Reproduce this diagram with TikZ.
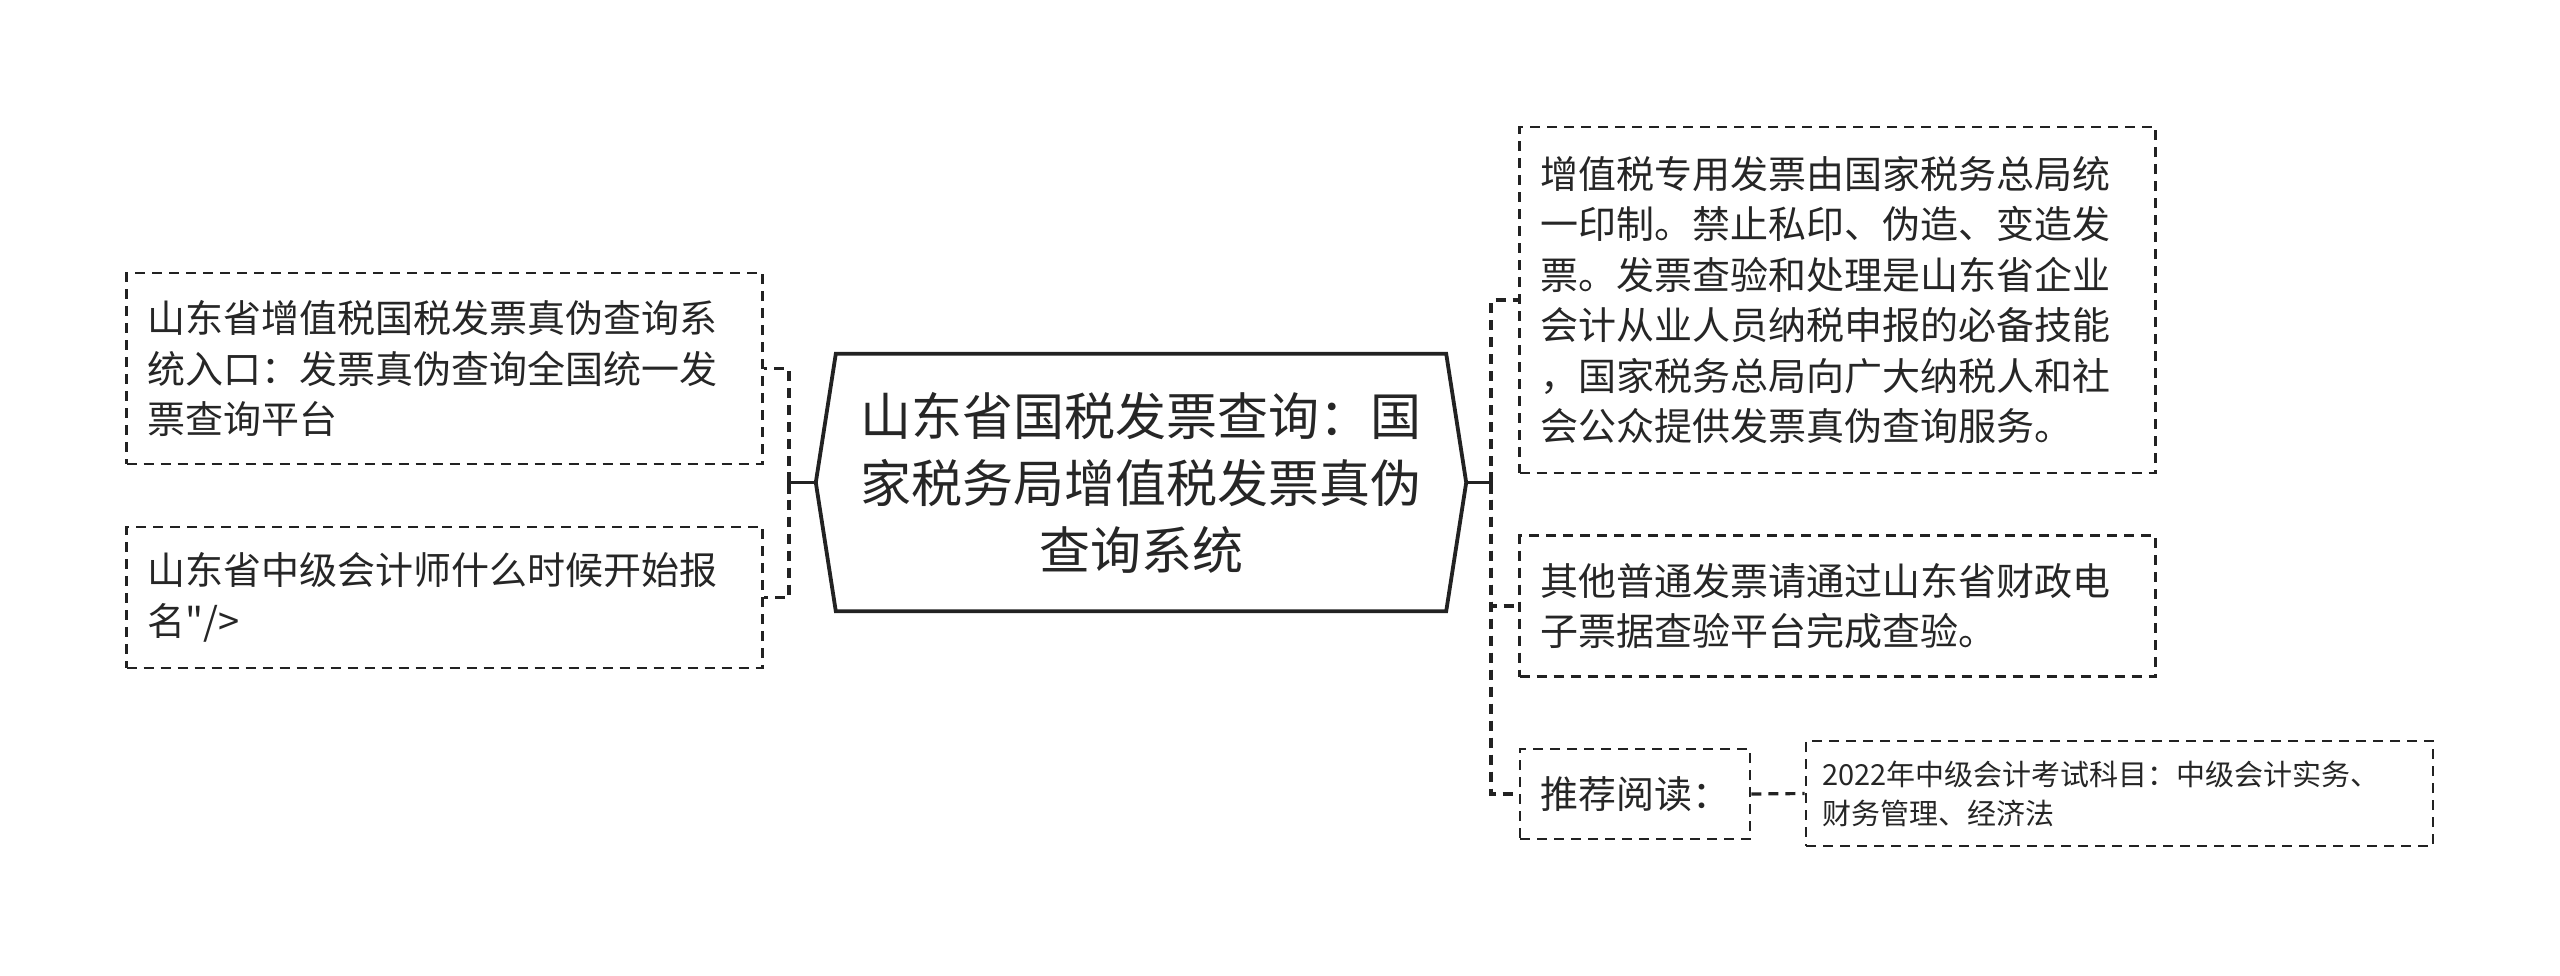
\documentclass[tikz,border=0pt]{standalone}
\usepackage{fontspec}
\newfontfamily\cjkf{Noto Sans CJK SC}
\definecolor{linec}{HTML}{222222}
\definecolor{textc}{HTML}{262626}
\begin{document}
\begin{tikzpicture}[x=1pt,y=-1pt,
  leaf/.style={draw=linec, line width=2.8pt, dash pattern=on 10pt off 7pt, align=left,
    inner xsep=21pt, inner ysep=0pt, text=textc, font=\cjkf\fontsize{38}{50.5}\selectfont},
  small/.style={font=\cjkf\fontsize{29}{39}\selectfont, inner xsep=16pt},
  rootbox/.style={inner sep=0pt, align=center, text=textc, font=\cjkf\fontsize{51}{67}\selectfont,
    minimum width=650pt, minimum height=257pt},
  hexline/.style={draw=linec, line width=3.8pt, line join=miter},
  solidcon/.style={draw=linec, line width=3.4pt},
  dashcon/.style={draw=linec, line width=3.2pt, dash pattern=on 10pt off 7pt}
]
\useasboundingbox (0,0) rectangle (2560,975);

% root
\node[rootbox] (root) at (1141,482.5) {山东省国税发票查询：国\\家税务局增值税发票真伪\\查询系统};
\draw[hexline] (root.west) -- ([xshift=20pt]root.north west) -- ([xshift=-20pt]root.north east)
  -- (root.east) -- ([xshift=-20pt]root.south east) -- ([xshift=20pt]root.south west) -- cycle;

% left leaves
\node[leaf, text width=594pt, minimum height=191pt] (l1) at (444.5,368.5)
  {山东省增值税国税发票真伪查询系\\统入口：发票真伪查询全国统一发\\票查询平台};
\node[leaf, text width=594pt, minimum height=141pt] (l2) at (444.5,597.5)
  {山东省中级会计师什么时候开始报\\名"/>};

% right leaves
\node[leaf, text width=594pt, minimum height=346pt] (r1) at (1837.5,300)
  {增值税专用发票由国家税务总局统\\一印制。禁止私印、伪造、变造发\\票。发票查验和处理是山东省企业\\会计从业人员纳税申报的必备技能\\，国家税务总局向广大纳税人和社\\会公众提供发票真伪查询服务。};
\node[leaf, text width=594pt, minimum height=141pt] (r2) at (1837.5,606)
  {其他普通发票请通过山东省财政电\\子票据查验平台完成查验。};
\node[leaf, text width=190pt, inner xsep=20pt, minimum height=90pt] (r3) at (1635,794)
  {推荐阅读：};
\node[leaf, small, text width=595pt, minimum height=105pt] (r4) at (2119.5,793.5)
  {2022年中级会计考试科目：中级会计实务、\\财务管理、经济法};

% left connectors
\coordinate (lj) at (789,482.5);
\draw[solidcon] (root.west) -- (lj);
\draw[dashcon] (lj) |- (l1.east);
\draw[dashcon] (lj) |- (l2.east);
\draw[solidcon] ([yshift=-11pt]lj) -- ([yshift=11pt]lj);

% right connectors
\coordinate (rj) at (1491,482.5);
\draw[solidcon] (root.east) -- (rj);
\draw[dashcon] (rj) |- (r1.west);
\draw[dashcon] (rj) |- (r2.west);
\draw[dashcon] (rj) |- (r3.west);
\draw[solidcon] ([yshift=-11pt]rj) -- ([yshift=11pt]rj);
\draw[dashcon] (r3.east) -- (r4.west);
\end{tikzpicture}
\end{document}
